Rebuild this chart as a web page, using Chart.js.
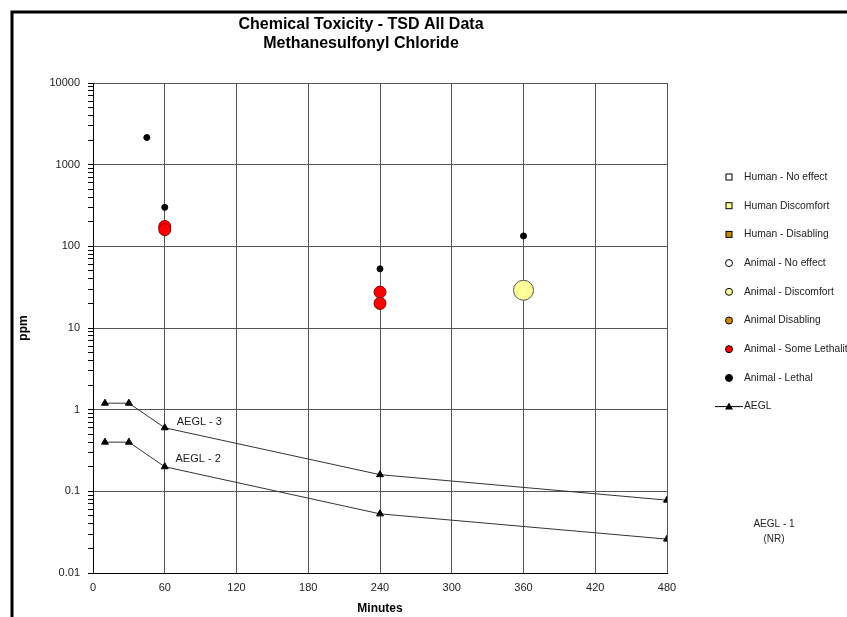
<!DOCTYPE html>
<html>
<head>
<meta charset="utf-8">
<script src="https://cdn.jsdelivr.net/npm/chart.js@4/dist/chart.umd.min.js"></script>
<style>
  body { margin: 0; background: #fff; }
</style>
</head>
<body>
<canvas id="toxChart" width="847" height="617"></canvas>
<script>
// Data (minutes, ppm)
const lethalX = [45, 60, 240, 360];
const lethalY = [2150, 300, 53, 134];
const someLethalX = [60, 60, 240, 240];
const someLethalY = [175, 160, 27.5, 20];
const discomfortX = [360];
const discomfortY = [29];
const aeglX = [10, 30, 60, 240, 480];
const aegl3Y = [1.2, 1.2, 0.6, 0.16, 0.078];
const aegl2Y = [0.4, 0.4, 0.2, 0.053, 0.026];

const xTicks = [0, 60, 120, 180, 240, 300, 360, 420, 480];
const yMajor = [0.01, 0.1, 1, 10, 100, 1000, 10000];

function toPoints(xs, ys) {
  return xs.map((x, i) => ({ x: x, y: ys[i] }));
}

// legend entries, in the order the reference shows them
const legendItems = [
  { text: 'Human - No effect', shape: 'rect', fill: '#ffffff' },
  { text: 'Human Discomfort', shape: 'rect', fill: '#ffff99' },
  { text: 'Human - Disabling', shape: 'rect', fill: '#c98a00' },
  { text: 'Animal - No effect', shape: 'circle', fill: '#ffffff' },
  { text: 'Animal - Discomfort', shape: 'circle', fill: '#ffff99' },
  { text: 'Animal Disabling', shape: 'circle', fill: '#c98a00' },
  { text: 'Animal - Some Lethality', shape: 'circle', fill: '#ff0000' },
  { text: 'Animal - Lethal', shape: 'circle', fill: '#000000' },
  { text: 'AEGL', shape: 'line', fill: '#000000' }
];

const decorations = {
  id: 'decorations',
  afterDraw(chart) {
    const c = chart.ctx;
    const xs = chart.scales.x, ys = chart.scales.y;
    c.save();

    // outer frame (top and left only, as in the picture)
    c.strokeStyle = '#000';
    c.lineWidth = 3;
    c.beginPath();
    c.moveTo(12, 617);
    c.lineTo(12, 12);
    c.lineTo(847, 12);
    c.stroke();

    // title
    c.fillStyle = '#000';
    c.font = 'bold 16px "Liberation Sans", Arial, sans-serif';
    c.textAlign = 'center';
    c.textBaseline = 'middle';
    c.fillText('Chemical Toxicity - TSD All Data', 361, 25);
    c.fillText('Methanesulfonyl Chloride', 361, 44);

    // AEGL line labels
    c.font = '11px "Liberation Sans", Arial, sans-serif';
    c.fillStyle = '#222';
    c.textAlign = 'left';
    c.fillText('AEGL - 3', xs.getPixelForValue(70), ys.getPixelForValue(0.71));
    c.fillText('AEGL - 2', xs.getPixelForValue(69), ys.getPixelForValue(0.25));

    // AEGL-1 note
    c.font = '10px "Liberation Sans", Arial, sans-serif';
    c.textAlign = 'center';
    c.fillText('AEGL - 1', 774, 524);
    c.fillText('(NR)', 774, 539);

    // legend
    const mx = 729, tx = 744;
    legendItems.forEach((it, i) => {
      const y = 177 + i * 28.7;
      c.lineWidth = 1;
      c.strokeStyle = '#000';
      c.fillStyle = it.fill;
      if (it.shape === 'rect') {
        c.fillRect(mx - 3, y - 3, 6, 6);
        c.strokeRect(mx - 3, y - 3, 6, 6);
      } else if (it.shape === 'circle') {
        c.beginPath();
        c.arc(mx, y, 3.5, 0, Math.PI * 2);
        c.fill();
        c.stroke();
      } else {
        c.beginPath();
        c.moveTo(715, y);
        c.lineTo(743, y);
        c.stroke();
        c.beginPath();
        c.moveTo(mx, y - 4);
        c.lineTo(mx + 4, y + 3);
        c.lineTo(mx - 4, y + 3);
        c.closePath();
        c.fill();
      }
      c.fillStyle = '#222';
      c.textAlign = 'left';
      c.font = '10.3px "Liberation Sans", Arial, sans-serif';
      c.fillText(it.text, tx, y);
    });
    c.restore();
  }
};

new Chart(document.getElementById('toxChart'), {
  type: 'scatter',
  data: {
    datasets: [
      {
        label: 'AEGL - 3',
        data: toPoints(aeglX, aegl3Y),
        showLine: true,
        borderColor: '#333',
        borderWidth: 1,
        pointStyle: 'triangle',
        pointRadius: 4,
        pointBackgroundColor: '#000',
        pointBorderColor: '#000'
      },
      {
        label: 'AEGL - 2',
        data: toPoints(aeglX, aegl2Y),
        showLine: true,
        borderColor: '#333',
        borderWidth: 1,
        pointStyle: 'triangle',
        pointRadius: 4,
        pointBackgroundColor: '#000',
        pointBorderColor: '#000'
      },
      {
        label: 'Animal - Discomfort',
        data: toPoints(discomfortX, discomfortY),
        pointRadius: 10,
        pointBackgroundColor: '#ffff99',
        pointBorderColor: '#555',
        pointBorderWidth: 1
      },
      {
        label: 'Animal - Some Lethality',
        data: toPoints(someLethalX, someLethalY),
        pointRadius: 6,
        pointBackgroundColor: '#ff0000',
        pointBorderColor: '#8b0000',
        pointBorderWidth: 1
      },
      {
        label: 'Animal - Lethal',
        data: toPoints(lethalX, lethalY),
        pointRadius: 3,
        pointBackgroundColor: '#000',
        pointBorderColor: '#000'
      }
    ]
  },
  options: {
    responsive: false,
    animation: false,
    layout: { padding: { top: 83, right: 180, bottom: 0, left: 0 } },
    plugins: {
      legend: { display: false },
      tooltip: { enabled: false }
    },
    scales: {
      x: {
        type: 'linear',
        min: 0,
        max: 480,
        afterBuildTicks: (scale) => { scale.ticks = xTicks.map(v => ({ value: v })); },
        afterFit: (scale) => { scale.height = 44; },
        grid: { color: '#555', drawTicks: false },
        border: { color: '#000', width: 1 },
        ticks: {
          padding: 8,
          color: '#222',
          font: { family: '"Liberation Sans", Arial, sans-serif', size: 11 }
        },
        title: {
          display: true,
          text: 'Minutes',
          color: '#000',
          font: { family: '"Liberation Sans", Arial, sans-serif', size: 12, weight: 'bold' },
          padding: { top: 0, bottom: 1 }
        }
      },
      y: {
        type: 'logarithmic',
        min: 0.01,
        max: 10000,
        afterBuildTicks: (scale) => {
          const t = [];
          yMajor.forEach((v, i) => {
            t.push({ value: v, major: true });
            if (i < yMajor.length - 1) {
              for (let m = 2; m <= 9; m++) t.push({ value: v * m, major: false });
            }
          });
          scale.ticks = t;
        },
        afterFit: (scale) => { scale.width = 93; },
        grid: {
          color: (ctx) => (ctx.tick && ctx.tick.major) ? '#555' : 'rgba(0,0,0,0)',
          tickColor: '#000',
          tickLength: 5
        },
        border: { color: '#000', width: 1 },
        ticks: {
          autoSkip: false,
          padding: 8,
          color: '#222',
          font: { family: '"Liberation Sans", Arial, sans-serif', size: 11 },
          callback: (v) => yMajor.includes(v) ? String(v) : ''
        },
        title: {
          display: true,
          text: 'ppm',
          color: '#000',
          font: { family: '"Liberation Sans", Arial, sans-serif', size: 12, weight: 'bold' },
          padding: { top: 16, bottom: 0 }
        }
      }
    }
  },
  plugins: [decorations]
});
</script>
</body>
</html>
